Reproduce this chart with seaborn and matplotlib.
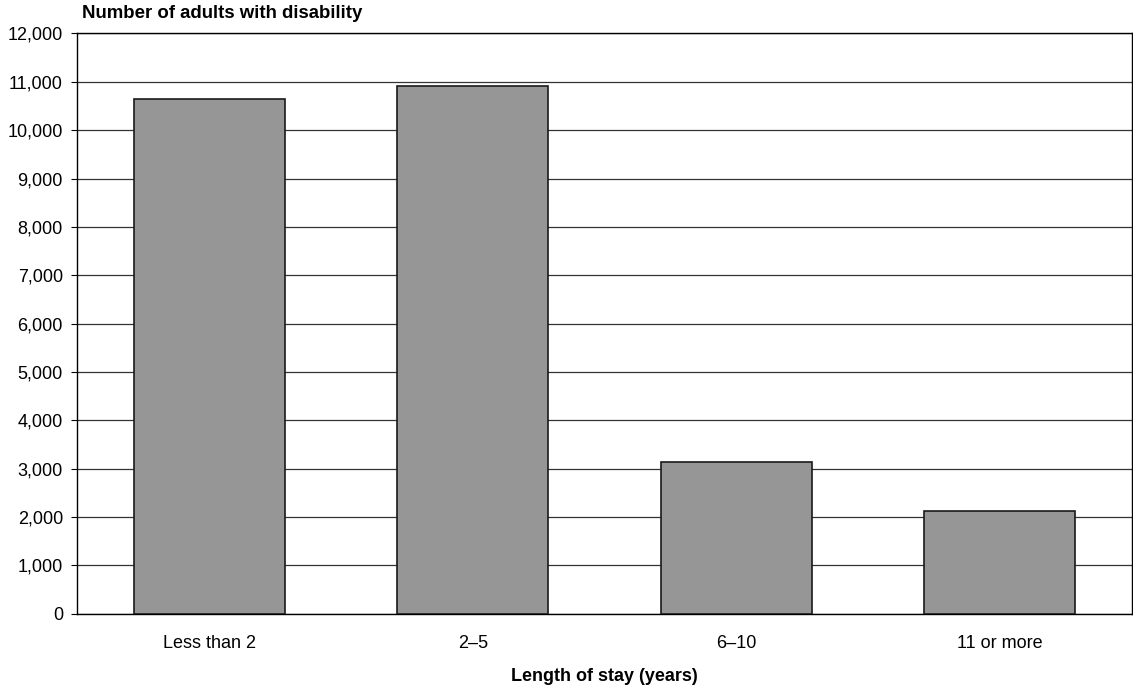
import matplotlib
matplotlib.use("Agg")
import matplotlib.pyplot as plt
import seaborn as sns
import pandas as pd
from matplotlib.ticker import FuncFormatter

categories = ["Less than 2", "2\u20135", "6\u201310", "11 or more"]
adults = [10640, 10910, 3140, 2120]

df = pd.DataFrame({"stay": categories, "adults": adults})

sns.set_theme(style="white")
plt.rcParams["font.family"] = ["Liberation Sans", "DejaVu Sans"]
plt.rcParams["text.color"] = "#000000"
plt.rcParams["axes.labelcolor"] = "#000000"

fig = plt.figure(figsize=(11.33, 6.86), dpi=100)
ax = fig.add_axes([0.0684, 0.1054, 0.9303, 0.8458])

sns.barplot(data=df, x="stay", y="adults", color="#969696", saturation=1,
            width=0.573, edgecolor="#1a1a1a", linewidth=1.2, ax=ax, zorder=3)

ax.set_ylim(0, 12000)
ax.set_xlim(-0.5, 3.5)
ax.set_yticks(range(0, 12001, 1000))
ax.yaxis.set_major_formatter(FuncFormatter(lambda v, p: f"{int(v):,}"))
ax.grid(axis="y", color="#333333", linewidth=0.9, zorder=0)
ax.set_axisbelow(True)

for s in ax.spines.values():
    s.set_visible(True)
    s.set_color("#000000")
    s.set_linewidth(1.0)

ax.tick_params(axis="y", labelsize=13, colors="#000000", left=True,
               length=4.5, width=0.8, direction="out", pad=6)
ax.tick_params(axis="x", labelsize=13, colors="#000000", length=0, pad=15)
ax.set_ylabel("")
ax.set_xlabel("Length of stay (years)", fontsize=13, fontweight="bold",
              labelpad=12, color="#000000")

fig.text(82 / 1133, 1 - 13 / 686, "Number of adults with disability", fontsize=13.4,
         fontweight="bold", ha="left", va="center", color="#000000")

fig.savefig("out.png", dpi=100)
